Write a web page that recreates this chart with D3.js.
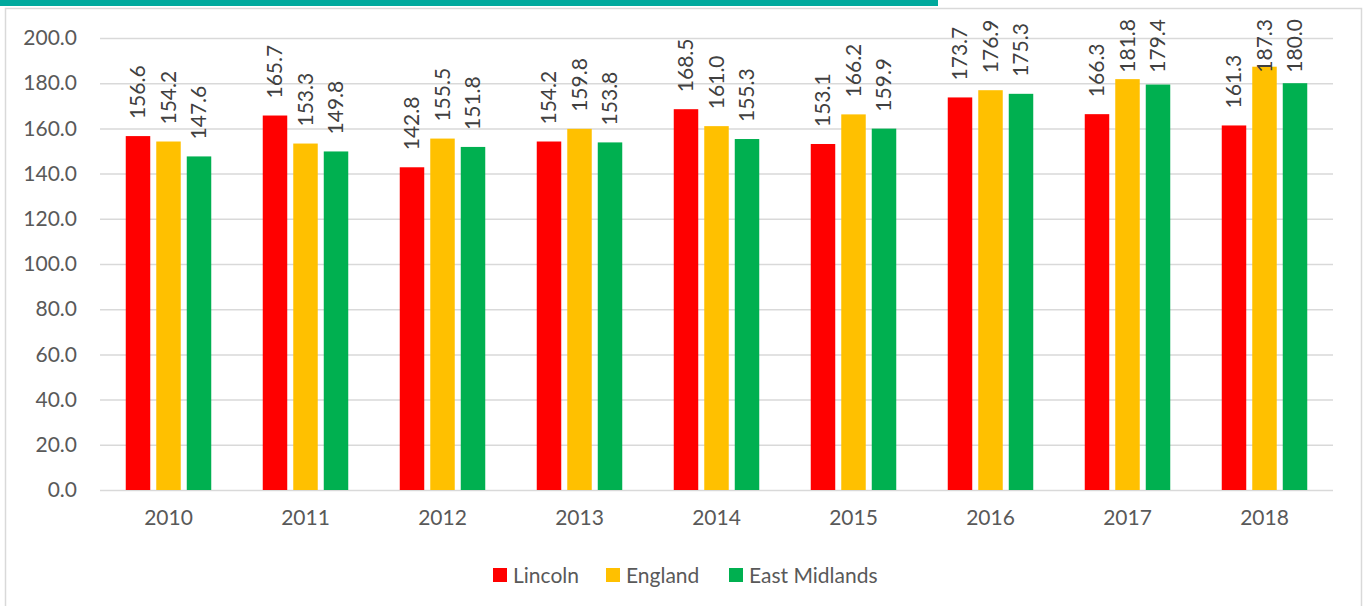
<!DOCTYPE html>
<html>
<head>
<meta charset="utf-8">
<script src="https://cdn.jsdelivr.net/npm/d3@7"></script>
<style>
  body { margin: 0; background: white; }
  svg text { font-family: Lato, "Open Sans", sans-serif; }
</style>
</head>
<body>
<div id="chart"></div>
<script>
let years = ["2010", "2011", "2012", "2013", "2014", "2015", "2016", "2017", "2018"];
let seriesNames = ["Lincoln", "England", "East Midlands"];
let lincoln = [156.6, 165.7, 142.8, 154.2, 168.5, 153.1, 173.7, 166.3, 161.3];
let england = [154.2, 153.3, 155.5, 159.8, 161.0, 166.2, 176.9, 181.8, 187.3];
let eastMidlands = [147.6, 149.8, 151.8, 153.8, 155.3, 159.9, 175.3, 179.4, 180.0];
let yTicks = [0, 20, 40, 60, 80, 100, 120, 140, 160, 180, 200];
let colors = ["#FF0000", "#FFC000", "#00B050"];

function renderChart() {
    const wSvg = 1363;
    const hSvg = 606;
    const left = 100, right = 1333, top = 38, bottom = 490;

    let values = [lincoln, england, eastMidlands];
    let rows = [];
    years.forEach((year, i) => {
        seriesNames.forEach((name, j) => {
            rows.push({ year: year, series: name, value: values[j][i], idx: j });
        });
    });

    let yScale = d3.scaleLinear([0, 200], [bottom, top]);
    let xScale = d3.scaleBand(years, [left, right]);
    let groupWidth = 85.5;
    let innerScale = d3.scaleBand(seriesNames, [0, groupWidth]).paddingInner(0.197);
    let offset = (xScale.bandwidth() - groupWidth) / 2;

    let svg = d3.select("#chart")
        .append("svg")
        .attr("width", wSvg)
        .attr("height", hSvg);

    // teal strip and outer frame
    svg.append("rect")
        .attr("x", 0).attr("y", 0)
        .attr("width", 938).attr("height", 6)
        .attr("fill", "#00A99D");
    svg.append("rect")
        .attr("x", 5.5).attr("y", 8.5)
        .attr("width", 1356).attr("height", 620)
        .attr("fill", "none")
        .attr("stroke", "#D9D9D9")
        .attr("stroke-width", 1.5);

    // gridlines + y labels
    let yAxis = d3.axisLeft(yScale)
        .tickValues(yTicks)
        .tickFormat(d3.format(".1f"))
        .tickSize(-(right - left))
        .tickPadding(23);
    let yg = svg.append("g")
        .attr("transform", `translate(${left}, 0)`)
        .call(yAxis);
    yg.select(".domain").remove();
    yg.selectAll(".tick line")
        .attr("stroke", "#D9D9D9")
        .attr("stroke-width", 1.5);
    yg.selectAll("text")
        .attr("fill", "#595959")
        .style("font-size", "21px");

    // x labels
    let xAxis = d3.axisBottom(xScale).tickSize(0).tickPadding(20);
    let xg = svg.append("g")
        .attr("transform", `translate(0, ${bottom})`)
        .call(xAxis);
    xg.select(".domain").remove();
    xg.selectAll("text")
        .attr("fill", "#595959")
        .style("font-size", "21px");

    // bars
    svg.selectAll(".bar")
        .data(rows)
        .enter()
        .append("rect")
        .attr("class", "bar")
        .attr("x", d => xScale(d.year) + offset + innerScale(d.series))
        .attr("y", d => yScale(d.value))
        .attr("width", innerScale.bandwidth())
        .attr("height", d => yScale(0) - yScale(d.value))
        .attr("fill", d => colors[d.idx]);

    // value labels, rotated; pushed down when they would leave the top
    svg.selectAll(".lbl")
        .data(rows)
        .enter()
        .append("text")
        .attr("class", "lbl")
        .attr("dy", "0.35em")
        .attr("fill", "#404040")
        .style("font-size", "21px")
        .text(d => d3.format(".1f")(d.value))
        .attr("transform", function(d) {
            let cx = xScale(d.year) + offset + innerScale(d.series) + innerScale.bandwidth() / 2;
            let len = this.getComputedTextLength();
            let startY = Math.max(yScale(d.value) - 17, 19 + len);
            return `translate(${cx}, ${startY}) rotate(-90)`;
        });

    // legend
    let legendX = [493, 606, 729];
    let legend = svg.selectAll(".legend")
        .data(seriesNames)
        .enter()
        .append("g")
        .attr("class", "legend")
        .attr("transform", (d, i) => `translate(${legendX[i]}, 568)`);
    legend.append("rect")
        .attr("width", 14).attr("height", 14)
        .attr("fill", (d, i) => colors[i]);
    legend.append("text")
        .attr("x", 20).attr("y", 15)
        .attr("fill", "#595959")
        .style("font-size", "21px")
        .text(d => d);
}

renderChart();
</script>
</body>
</html>
